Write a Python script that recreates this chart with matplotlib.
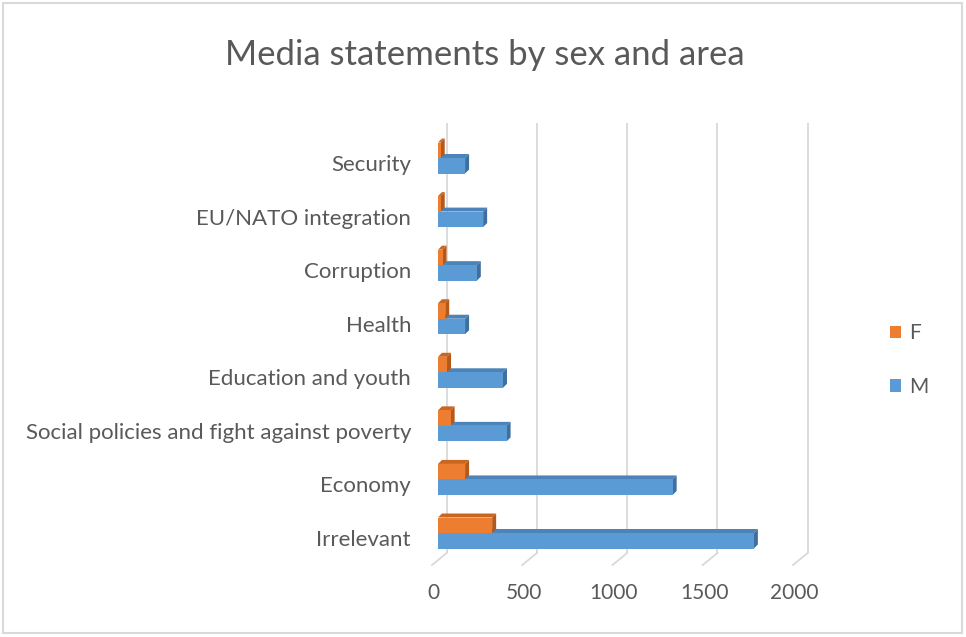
import matplotlib
matplotlib.use("Agg")
import matplotlib.pyplot as plt
from matplotlib.patches import Polygon, Rectangle, Patch

plt.rcParams['font.family'] = ['Lato', 'DejaVu Sans']

categories = ["Irrelevant", "Economy", "Social policies and fight against poverty",
              "Education and youth", "Health", "Corruption",
              "EU/NATO integration", "Security"]
M_values = [1750, 1300, 380, 360, 150, 215, 250, 150]
F_values = [300, 150, 70, 50, 40, 25, 15, 15]
x_ticks = [0, 500, 1000, 1500, 2000]
title = "Media statements by sex and area"

C_M = "#5B9BD5"
C_M_side = "#3F6F9F"
C_M_top = "#4C84BA"
C_F = "#ED7D31"
C_F_side = "#B5591B"
C_F_top = "#C9661F"
TXT = "#595959"
GRID = "#D9D9D9"

W, H = 966, 637
fig = plt.figure(figsize=(W / 100, H / 100), dpi=100)

# axes: front plane of bars, pixel layout
ax_left, ax_right = 438, 799
ax_top, ax_bot = 120, 570
base_px = 533.0     # pixel y of first category boundary
step_px = 53.57
ax = fig.add_axes([ax_left / W, 1 - ax_bot / H, (ax_right - ax_left) / W, (ax_bot - ax_top) / H])
ax.set_xlim(0, 2000)
ax.set_ylim((base_px - ax_bot) / step_px, (base_px - ax_top) / step_px)
ax.axis('off')

sx = (ax_right - ax_left) / 2000.0   # px per data unit (x)
sy = step_px                          # px per data unit (y)

def py(p):  # pixel y -> data y
    return (base_px - p) / sy

# gridlines on back wall + floor slants
back_dx = 8.7 / sx
front_dx = -6.0 / sx
for v in x_ticks:
    xb = v + back_dx
    ax.plot([xb, xb], [py(553), py(123)], color=GRID, lw=1.3, zorder=1,
            solid_capstyle='butt', clip_on=False)
    ax.plot([xb, v + front_dx], [py(553), py(565)], color=GRID, lw=1.3, zorder=1, clip_on=False)
    ax.text(v + front_dx + 1.5 / sx, py(593), str(v), ha='center', va='center', fontsize=15,
            color=TXT, clip_on=False)

bh = 15.5 / sy
ddx = 4.0 / sx
ddy = 4.0 / sy

def bar3d(y0, val, c_front, c_top, c_side, z):
    y1 = y0 + bh
    ax.add_patch(Polygon([(0, y1), (val, y1), (val + ddx, y1 + ddy), (ddx, y1 + ddy)],
                         closed=True, facecolor=c_top, edgecolor='none', zorder=z))
    ax.add_patch(Polygon([(val, y0), (val + ddx, y0 + ddy), (val + ddx, y1 + ddy), (val, y1)],
                         closed=True, facecolor=c_side, edgecolor='none', zorder=z))

for i, cat in enumerate(categories):
    z = 10 + (len(categories) - i) * 3
    bar3d(i - bh, M_values[i], C_M, C_M_top, C_M_side, z)
    ax.barh(i - bh / 2, M_values[i], height=bh, color=C_M, zorder=z + 0.5)
    bar3d(i, F_values[i], C_F, C_F_top, C_F_side, z + 1)
    ax.barh(i + bh / 2, F_values[i], height=bh, color=C_F, zorder=z + 1.5)
    ax.text((411 - ax_left) / sx, i - 7 / sy, cat, ha='right', va='center',
            fontsize=16, color=TXT, clip_on=False)

fig.text(485 / W, 1 - 55 / H, title, ha='center', va='center', fontsize=25, color=TXT)

handles = [Patch(facecolor=C_F, edgecolor='none'), Patch(facecolor=C_M, edgecolor='none')]
fig.legend(handles, ["F", "M"], loc='center left', bbox_to_anchor=(871 / W, 1 - 360 / H),
           frameon=False, fontsize=15, labelcolor=TXT, handlelength=0.55,
           handleheight=0.55, handletextpad=0.4, labelspacing=1.6)

fig.patches.append(Rectangle((3 / W, 4 / H), 959 / W, 630 / H, transform=fig.transFigure,
                             fill=False, edgecolor=GRID, lw=1.5))

fig.savefig("out.png", dpi=100, facecolor='white')
